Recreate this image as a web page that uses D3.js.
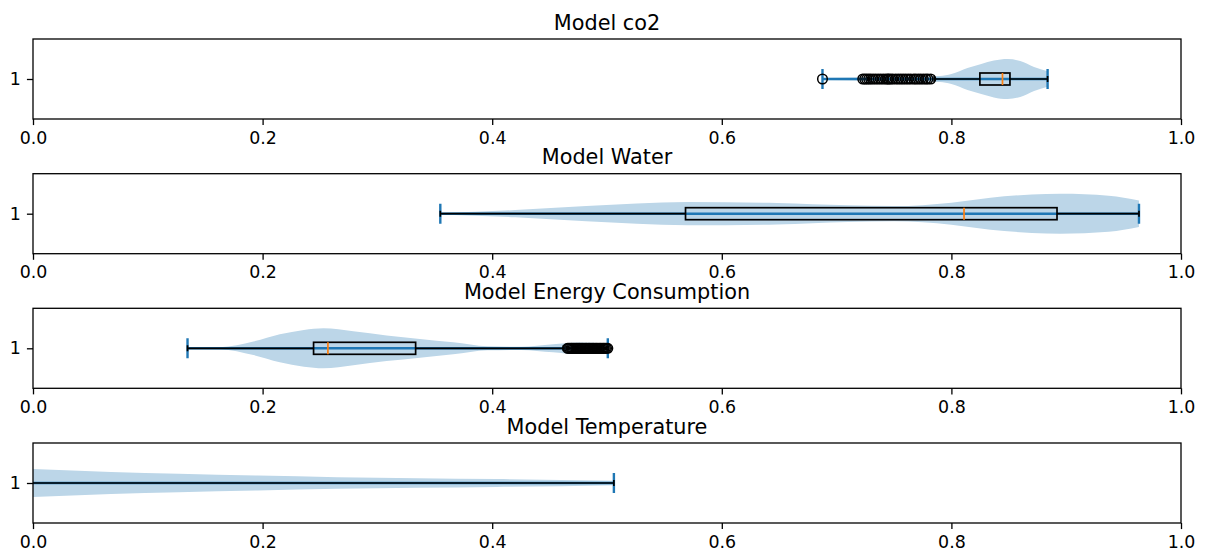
<!DOCTYPE html>
<html>
<head>
<meta charset="utf-8">
<script src="https://cdn.jsdelivr.net/npm/d3@7/dist/d3.min.js"></script>
<style>
  html, body { margin: 0; padding: 0; background: #fff; }
  svg { display: block; font-family: "DejaVu Sans", sans-serif; }
</style>
</head>
<body>
<svg id="chart" width="1205" height="552"></svg>
<script>
// Panel titles
const titles = ["Model co2", "Model Water", "Model Energy Consumption", "Model Temperature"];

// x tick values shared by every panel
const xTicks = [0.0, 0.2, 0.4, 0.6, 0.8, 1.0];
const yTickLabels = ["1"];

// Violin outlines: sample positions and relative density (1 = widest point)
const co2ViolinX       = [0.6877, 0.72, 0.76, 0.79, 0.80, 0.814, 0.826, 0.837, 0.849, 0.86, 0.872, 0.8838];
const co2ViolinDensity = [0.05,   0.08, 0.12, 0.15, 0.25, 0.55,  0.75,  0.92,  1.0,   0.9,  0.6,   0.39];

const waterViolinX       = [0.3548, 0.42, 0.482, 0.57, 0.648, 0.71, 0.75, 0.80, 0.834, 0.87, 0.895, 0.937, 0.9634];
const waterViolinDensity = [0.04,   0.18, 0.38,  0.58, 0.54,  0.42, 0.38, 0.55, 0.8,   0.96, 1.0,   0.9,   0.66];

const energyViolinX       = [0.1346, 0.163, 0.192, 0.215, 0.236, 0.253, 0.279, 0.308, 0.337, 0.366, 0.396, 0.425, 0.453, 0.474, 0.5007];
const energyViolinDensity = [0.02,   0.05,  0.34,  0.7,   0.92,  1.0,   0.85,  0.64,  0.47,  0.3,   0.1,   0.08,  0.2,   0.29,  0.24];

const tempViolinX       = [-0.05, 0.0, 0.068, 0.127, 0.196, 0.265, 0.335, 0.404, 0.506];
const tempViolinDensity = [0.76,  0.7, 0.55,  0.46,  0.37,  0.29,  0.24,  0.2,   0.11];

// Data extremes (violin caps): [min, max]
const co2Range    = [0.6877, 0.8838];
const waterRange  = [0.3548, 0.9634];
const energyRange = [0.1346, 0.5007];
const tempRange   = [-0.40, 0.506];

// Box statistics: [lower whisker, q1, median, q3, upper whisker]
const co2Stats    = [0.785, 0.8248, 0.8445, 0.851, 0.8838];
const waterStats  = [0.3548, 0.5684, 0.811, 0.892, 0.9634];
const energyStats = [0.1346, 0.2444, 0.2569, 0.3333, 0.462];
const tempStats   = [-0.40, -0.25, -0.12, -0.03, 0.506];

// Outliers beyond the whiskers
const co2Outliers = [0.6877, 0.7228, 0.7245, 0.7262, 0.728, 0.7297, 0.7318, 0.734, 0.7362, 0.7384,
                     0.7406, 0.7428, 0.7445, 0.7455, 0.7472, 0.749, 0.7515, 0.7537, 0.7559, 0.758,
                     0.7602, 0.7624, 0.7646, 0.7672, 0.769, 0.7712, 0.7733, 0.7755, 0.7777, 0.7795, 0.782];
const energyOutliers = [0.4656, 0.4665, 0.4675, 0.4686, 0.4695, 0.4705, 0.4716, 0.4726, 0.4735, 0.4746,
                        0.4756, 0.4765, 0.4776, 0.4786, 0.4795, 0.4806, 0.4816, 0.4825, 0.4836, 0.4846,
                        0.4855, 0.4866, 0.4876, 0.4885, 0.4896, 0.4906, 0.4915, 0.4926, 0.4936, 0.4945,
                        0.4956, 0.4966, 0.4975, 0.4986, 0.4996, 0.5007];
const tempOutliers = [];

const panels = [
  { title: titles[0], vx: co2ViolinX, vd: co2ViolinDensity, range: co2Range, stats: co2Stats, outliers: co2Outliers },
  { title: titles[1], vx: waterViolinX, vd: waterViolinDensity, range: waterRange, stats: waterStats, outliers: [] },
  { title: titles[2], vx: energyViolinX, vd: energyViolinDensity, range: energyRange, stats: energyStats, outliers: energyOutliers },
  { title: titles[3], vx: tempViolinX, vd: tempViolinDensity, range: tempRange, stats: tempStats, outliers: tempOutliers }
];

const C0 = "#1f77b4";
const orange = "#ff7f0e";
const violinFill = "#bcd6e8";

const left = 33, right = 1181, panelH = 80;
const panelTops = [39, 173.7, 308.3, 443];

const svg = d3.select("#chart");
const x = d3.scaleLinear().domain([0, 1]).range([left, right]);

const violinHalf = 0.25;   // widest half-width, in y units
const capHalf = 0.125;     // violin cap half-length
const boxHalf = 0.075;     // box half-height
const whiskerCapHalf = 0.0375;

const tickLen = 6.08;
const tickFont = "17.4px";
const titleFont = "20.8px";

panels.forEach((p, i) => {
  const top = panelTops[i];
  const y = d3.scaleLinear().domain([0.5, 1.5]).range([top + panelH, top]);
  const g = svg.append("g");

  const clipId = "clip" + i;
  svg.append("clipPath").attr("id", clipId)
    .append("rect").attr("x", left).attr("y", top).attr("width", right - left).attr("height", panelH);

  const plot = g.append("g").attr("clip-path", `url(#${clipId})`);

  // violin body
  const pts = p.vx.map((v, k) => [v, p.vd[k]]);
  const area = d3.area()
    .x(d => x(d[0]))
    .y0(d => y(1 - violinHalf * d[1]))
    .y1(d => y(1 + violinHalf * d[1]))
    .curve(d3.curveMonotoneX);
  plot.append("path").attr("d", area(pts)).attr("fill", violinFill);

  // violin extent bar and caps
  const vw = 2.4;
  plot.append("line")
    .attr("x1", x(p.range[0])).attr("x2", x(p.range[1]))
    .attr("y1", y(1)).attr("y2", y(1))
    .attr("stroke", C0).attr("stroke-width", vw);
  p.range.forEach(v => {
    plot.append("line")
      .attr("x1", x(v)).attr("x2", x(v))
      .attr("y1", y(1 - capHalf)).attr("y2", y(1 + capHalf))
      .attr("stroke", C0).attr("stroke-width", vw);
  });

  // box and whiskers
  const [wLo, q1, med, q3, wHi] = p.stats;
  const blk = "#000";
  const bw = 1.7;
  plot.append("line").attr("x1", x(wLo)).attr("x2", x(q1)).attr("y1", y(1)).attr("y2", y(1))
    .attr("stroke", blk).attr("stroke-width", bw);
  plot.append("line").attr("x1", x(q3)).attr("x2", x(wHi)).attr("y1", y(1)).attr("y2", y(1))
    .attr("stroke", blk).attr("stroke-width", bw);
  [wLo, wHi].forEach(v => {
    plot.append("line").attr("x1", x(v)).attr("x2", x(v))
      .attr("y1", y(1 - whiskerCapHalf)).attr("y2", y(1 + whiskerCapHalf))
      .attr("stroke", blk).attr("stroke-width", bw);
  });
  plot.append("rect")
    .attr("x", x(q1)).attr("y", y(1 + boxHalf))
    .attr("width", x(q3) - x(q1)).attr("height", y(1 - boxHalf) - y(1 + boxHalf))
    .attr("fill", "none").attr("stroke", blk).attr("stroke-width", bw);
  plot.append("line").attr("x1", x(med)).attr("x2", x(med))
    .attr("y1", y(1 - boxHalf)).attr("y2", y(1 + boxHalf))
    .attr("stroke", orange).attr("stroke-width", bw);

  // outliers
  plot.selectAll("circle.out").data(p.outliers).enter().append("circle")
    .attr("class", "out")
    .attr("cx", d => x(d)).attr("cy", y(1)).attr("r", 4.8)
    .attr("fill", "none").attr("stroke", blk).attr("stroke-width", 1.5);

  // axes
  const xAxis = d3.axisBottom(x).tickValues(xTicks).tickFormat(d3.format(".1f"))
    .tickSize(tickLen).tickPadding(tickLen);
  const xa = g.append("g").attr("transform", `translate(0,${top + panelH})`).call(xAxis);
  const yAxis = d3.axisLeft(y).tickValues([1]).tickFormat((d, k) => yTickLabels[k])
    .tickSize(tickLen).tickPadding(tickLen);
  const ya = g.append("g").attr("transform", `translate(${left},0)`).call(yAxis);
  [xa, ya].forEach(a => {
    a.select(".domain").remove();
    a.selectAll("line").attr("stroke", "#000").attr("stroke-width", 1.3);
    a.selectAll("text").attr("fill", "#000")
      .style("font-family", "'DejaVu Sans', sans-serif").style("font-size", tickFont);
  });

  // frame
  g.append("rect").attr("x", left).attr("y", top).attr("width", right - left).attr("height", panelH)
    .attr("fill", "none").attr("stroke", "#000").attr("stroke-width", 1.3);

  // title
  g.append("text").attr("x", (left + right) / 2).attr("y", top - 9.5)
    .attr("text-anchor", "middle").style("font-size", titleFont).attr("fill", "#000")
    .text(p.title);
});
</script>
</body>
</html>
